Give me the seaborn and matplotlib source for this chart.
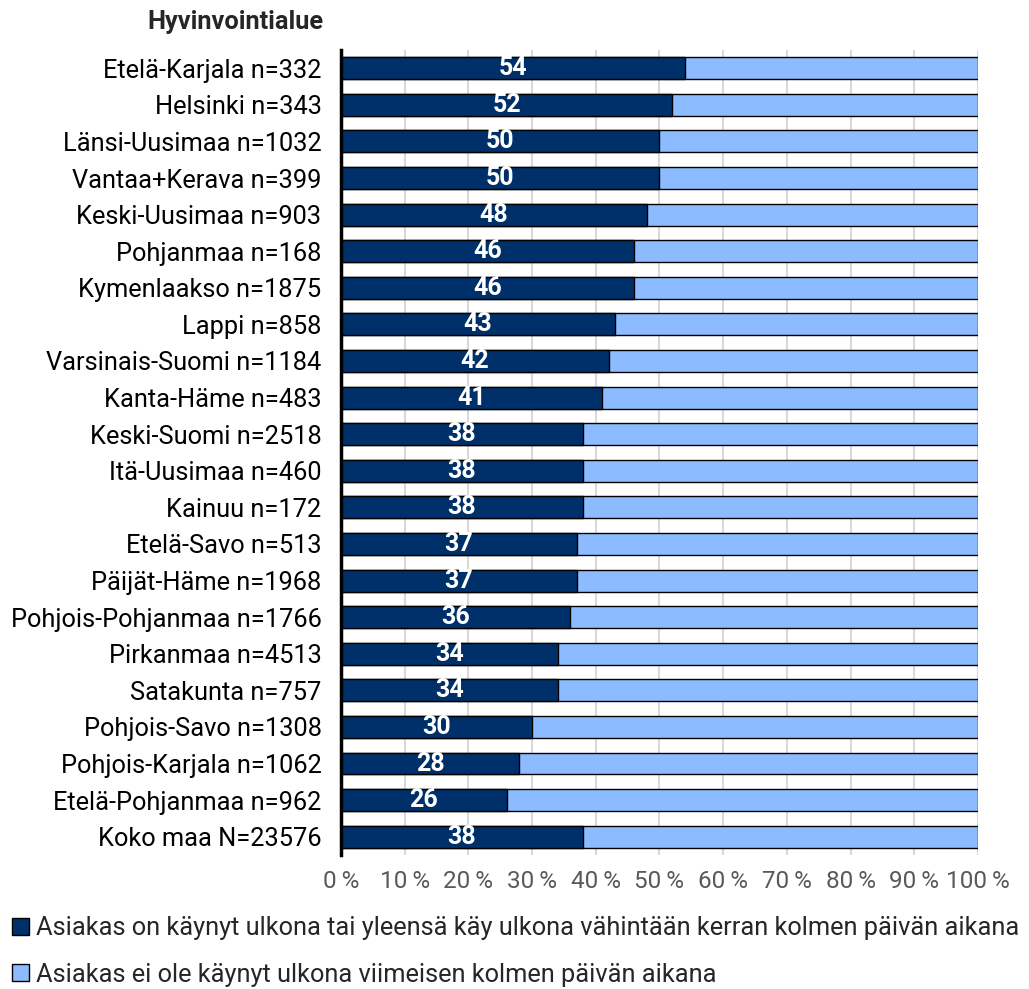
import matplotlib
matplotlib.use("Agg")
import matplotlib.pyplot as plt
from matplotlib.patches import Patch
import pandas as pd
import seaborn as sns

# Data
alueet = ["Etelä-Karjala n=332", "Helsinki n=343", "Länsi-Uusimaa n=1032",
          "Vantaa+Kerava n=399", "Keski-Uusimaa n=903", "Pohjanmaa n=168",
          "Kymenlaakso n=1875", "Lappi n=858", "Varsinais-Suomi n=1184",
          "Kanta-Häme n=483", "Keski-Suomi n=2518", "Itä-Uusimaa n=460",
          "Kainuu n=172", "Etelä-Savo n=513", "Päijät-Häme n=1968",
          "Pohjois-Pohjanmaa n=1766", "Pirkanmaa n=4513", "Satakunta n=757",
          "Pohjois-Savo n=1308", "Pohjois-Karjala n=1062",
          "Etelä-Pohjanmaa n=962", "Koko maa N=23576"]
ulkona = [54, 52, 50, 50, 48, 46, 46, 43, 42, 41, 38, 38, 38, 37, 37, 36,
          34, 34, 30, 28, 26, 38]
ei_ulkona = [46, 48, 50, 50, 52, 54, 54, 57, 58, 59, 62, 62, 62, 63, 63, 64,
             66, 66, 70, 72, 74, 62]
x_ticks = [0, 10, 20, 30, 40, 50, 60, 70, 80, 90, 100]
legend_labels = ["Asiakas on käynyt ulkona tai yleensä käy ulkona vähintään kerran kolmen päivän aikana",
                 "Asiakas ei ole käynyt ulkona viimeisen kolmen päivän aikana"]

dark = "#003069"
light = "#8cbcff"

sns.set_style("white")
plt.rcParams["font.family"] = ["Roboto", "DejaVu Sans"]

df = pd.DataFrame({"alue": alueet, "ulkona": ulkona, "ei": ei_ulkona})
df["yht"] = df["ulkona"] + df["ei"]

fig = plt.figure(figsize=(10.29, 9.89), dpi=100)
ax = fig.add_axes([0.3314, 0.1355, 0.619, 0.814])

# light full-length bar underneath, dark share on top
sns.barplot(data=df, x="yht", y="alue", color=light, width=0.6,
            edgecolor="black", linewidth=1.0, saturation=1, ax=ax, zorder=2)
sns.barplot(data=df, x="ulkona", y="alue", color=dark, width=0.6,
            edgecolor="black", linewidth=1.0, saturation=1, ax=ax, zorder=3)

for i, v in enumerate(ulkona):
    ax.text(v / 2, i, str(v), ha="center", va="center", color="white",
            fontsize=18, fontweight="bold", zorder=4)

ax.set_xlim(0, 100)
ax.set_ylim(21.5, -0.5)
ax.set_xticks(x_ticks)
ax.set_xticklabels([f"{t}\u2009%" for t in x_ticks], color="#595959", fontsize=17.5)
ax.tick_params(axis="y", labelsize=18.3, length=0, pad=14, labelcolor="black")
ax.tick_params(axis="x", length=0, pad=11)
ax.set_xlabel("")
ax.set_ylabel("")
ax.xaxis.grid(True, color="#d9d9d9", linewidth=1.5, zorder=0)
ax.set_axisbelow(True)
for s in ["top", "right", "bottom"]:
    ax.spines[s].set_visible(False)
ax.spines["left"].set_color("black")
ax.spines["left"].set_linewidth(2.5)
ax.spines["left"].set_zorder(5)

fig.text(0.314, 0.978, "Hyvinvointialue", ha="right", va="center",
         fontsize=18.3, fontweight="bold")

handles = [Patch(facecolor=dark, edgecolor="black"),
           Patch(facecolor=light, edgecolor="black")]
fig.legend(handles, legend_labels, loc="lower left", bbox_to_anchor=(0.007, -0.003),
           frameon=False, fontsize=18.3, handlelength=0.65, handleheight=0.65,
           handletextpad=0.3, labelspacing=0.9, borderpad=0.1,
           borderaxespad=0.1)

fig.savefig("out.png", dpi=100)
